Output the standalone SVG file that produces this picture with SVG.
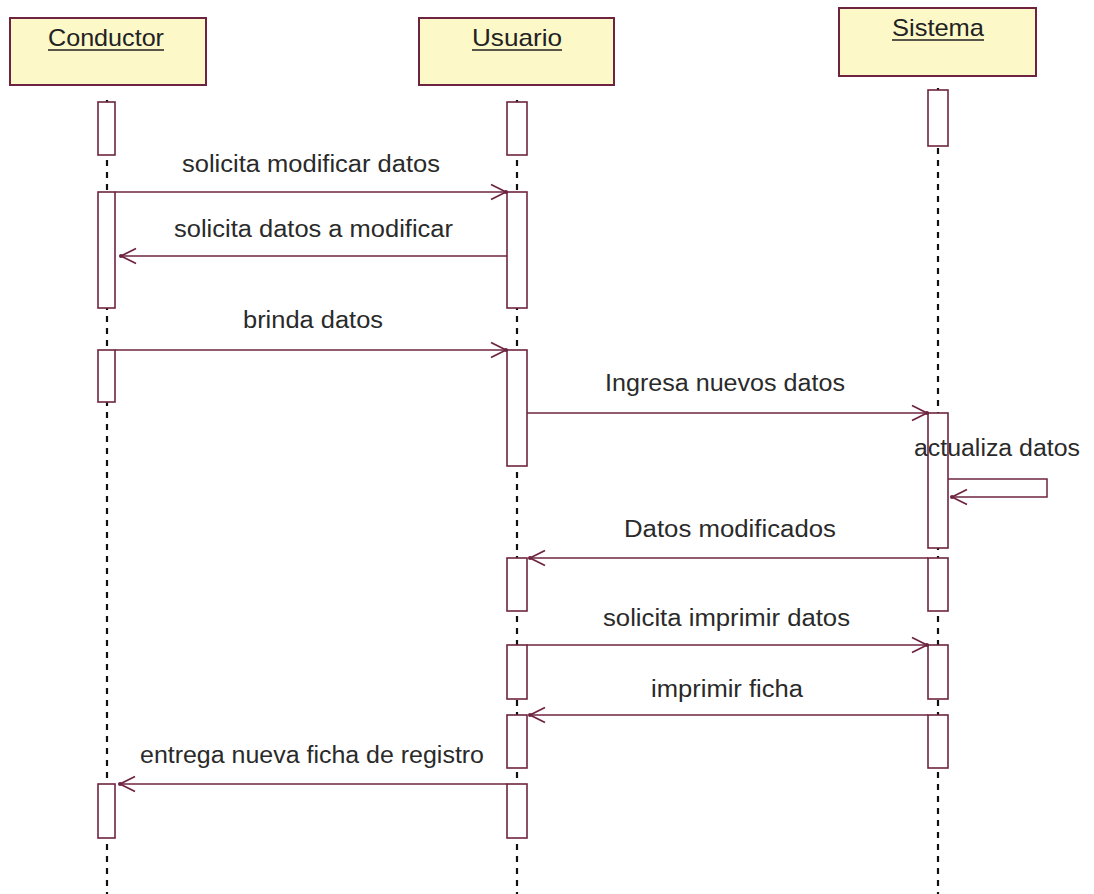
<svg xmlns="http://www.w3.org/2000/svg" width="1094" height="894" viewBox="0 0 1094 894">
  <style>
    .obj { fill: #fdf8c8; stroke: #6e2440; stroke-width: 2; }
    .objlabel { font-family: "Liberation Sans", Arial, sans-serif; font-size: 24px; fill: #222; }
    .uline { stroke: #222; stroke-width: 1.6; }
    .life { stroke: #111; stroke-width: 2.2; stroke-dasharray: 6 6; fill: none; }
    .act { fill: #fff; stroke: #6e2440; stroke-width: 1.6; }
    .msg { stroke: #6e2440; stroke-width: 1.5; fill: none; marker-end: url(#open); }
    .mlabel { font-family: "Liberation Sans", Arial, sans-serif; font-size: 23px; fill: #2a2a2a; }
  </style>
  <defs>
    <marker id="open" markerUnits="userSpaceOnUse" markerWidth="20" markerHeight="20" refX="0" refY="0" viewBox="-14 -8 16 16" orient="auto">
      <path d="M-12,-6 L0,0 L-12,6" fill="none" stroke="#6e2440" stroke-width="1.4"/>
      <circle cx="0" cy="0" r="1.6" fill="#6e2440"/>
    </marker>
  </defs>
  <rect width="1094" height="894" fill="#fff"/>

  <!-- lifelines -->
  <g id="lifelines">
    <line class="life" x1="107" y1="100" x2="107" y2="894"/>
    <line class="life" x1="517" y1="100" x2="517" y2="894"/>
    <line class="life" x1="938" y1="88" x2="938" y2="894"/>
  </g>

  <!-- participant: Conductor -->
  <g id="conductor">
    <rect class="obj" x="10" y="18" width="196" height="67"/>
    <text class="objlabel" x="48" y="46" textLength="116" lengthAdjust="spacingAndGlyphs">Conductor</text>
    <line class="uline" x1="48" y1="50" x2="164" y2="50"/>
    <rect class="act" x="98" y="102" width="17" height="53"/>
    <rect class="act" x="98" y="192" width="17" height="116"/>
    <rect class="act" x="98" y="350" width="17" height="52"/>
    <rect class="act" x="98" y="784" width="17" height="54"/>
  </g>

  <!-- participant: Usuario -->
  <g id="usuario">
    <rect class="obj" x="419" y="18" width="195" height="67"/>
    <text class="objlabel" x="472" y="46" textLength="90" lengthAdjust="spacingAndGlyphs">Usuario</text>
    <line class="uline" x1="472" y1="50" x2="562" y2="50"/>
    <rect class="act" x="507" y="102" width="20" height="53"/>
    <rect class="act" x="507" y="192" width="20" height="116"/>
    <rect class="act" x="507" y="350" width="20" height="116"/>
    <rect class="act" x="507" y="558" width="20" height="53"/>
    <rect class="act" x="507" y="645" width="20" height="54"/>
    <rect class="act" x="507" y="715" width="20" height="53"/>
    <rect class="act" x="507" y="784" width="20" height="54"/>
  </g>

  <!-- participant: Sistema -->
  <g id="sistema">
    <rect class="obj" x="839" y="8" width="197" height="68"/>
    <text class="objlabel" x="892" y="36" textLength="92" lengthAdjust="spacingAndGlyphs">Sistema</text>
    <line class="uline" x1="892" y1="40" x2="984" y2="40"/>
    <rect class="act" x="928" y="90" width="20" height="56"/>
    <rect class="act" x="928" y="413" width="20" height="135"/>
    <rect class="act" x="928" y="558" width="20" height="53"/>
    <rect class="act" x="928" y="645" width="20" height="54"/>
    <rect class="act" x="928" y="715" width="20" height="53"/>
  </g>

  <!-- messages -->
  <g id="connectors">
    <path class="msg" d="M115,192 H506"/>
    <path class="msg" d="M507,256 H121"/>
    <path class="msg" d="M115,350 H506"/>
    <path class="msg" d="M527,413 H927"/>
    <path class="msg" d="M948,479 H1047 V497 H952"/>
    <path class="msg" d="M928,558 H530"/>
    <path class="msg" d="M527,645 H927"/>
    <path class="msg" d="M928,715 H530"/>
    <path class="msg" d="M507,784 H120"/>
  </g>

  <!-- message labels -->
  <g id="labels">
    <text class="mlabel" x="182" y="172" textLength="258" lengthAdjust="spacingAndGlyphs">solicita modificar datos</text>
    <text class="mlabel" x="174" y="237" textLength="279" lengthAdjust="spacingAndGlyphs">solicita datos a modificar</text>
    <text class="mlabel" x="243" y="328" textLength="140" lengthAdjust="spacingAndGlyphs">brinda datos</text>
    <text class="mlabel" x="605" y="391" textLength="240" lengthAdjust="spacingAndGlyphs">Ingresa nuevos datos</text>
    <text class="mlabel" x="914" y="456" textLength="166" lengthAdjust="spacingAndGlyphs">actualiza datos</text>
    <text class="mlabel" x="624" y="537" textLength="212" lengthAdjust="spacingAndGlyphs">Datos modificados</text>
    <text class="mlabel" x="603" y="626" textLength="247" lengthAdjust="spacingAndGlyphs">solicita imprimir datos</text>
    <text class="mlabel" x="651" y="697" textLength="152" lengthAdjust="spacingAndGlyphs">imprimir ficha</text>
    <text class="mlabel" x="140" y="763" textLength="344" lengthAdjust="spacingAndGlyphs">entrega nueva ficha de registro</text>
  </g>
</svg>
